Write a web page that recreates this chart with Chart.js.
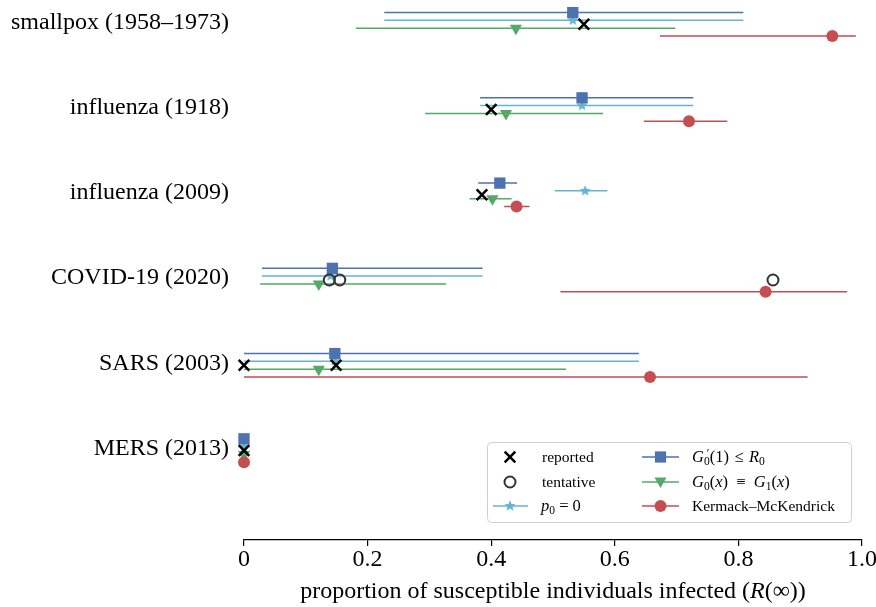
<!DOCTYPE html>
<html>
<head>
<meta charset="utf-8">
<script src="https://cdn.jsdelivr.net/npm/chart.js@4.4.1/dist/chart.umd.min.js"></script>
<style>
  html, body { margin: 0; padding: 0; background: #fff; }
  #wrap { width: 876px; height: 607px; }
</style>
</head>
<body>
<div id="wrap"><canvas id="chart" width="876" height="607"></canvas></div>
<script>
// 数据 — 每个疫情一行, 从上到下
const categories = ['smallpox (1958–1973)', 'influenza (1918)', 'influenza (2009)', 'COVID-19 (2020)', 'SARS (2003)', 'MERS (2013)'];

// G0'(1) <= R0 (蓝色方块)
const boundMid = [0.532, 0.547, 0.414, 0.143, 0.147, 0];
const boundLo  = [0.227, 0.382, 0.379, 0.029, 0.000, 0];
const boundHi  = [0.808, 0.727, 0.442, 0.386, 0.639, 0];
// p0 = 0 (青色星)
const p0Mid = [0.532, 0.547, 0.552, 0.140, 0.147, 0];
const p0Lo  = [0.227, 0.382, 0.503, 0.029, 0.000, 0];
const p0Hi  = [0.808, 0.727, 0.588, 0.386, 0.639, 0];
// G0(x) = G1(x) (绿色三角)
const geoMid = [0.440, 0.424, 0.402, 0.121, 0.121, 0];
const geoLo  = [0.181, 0.293, 0.365, 0.026, 0.000, 0];
const geoHi  = [0.698, 0.581, 0.433, 0.327, 0.521, 0];
// Kermack–McKendrick (红色圆点)
const kmMid = [0.952, 0.720, 0.441, 0.844, 0.657, 0];
const kmLo  = [0.673, 0.647, 0.421, 0.512, 0.000, 0];
const kmHi  = [0.990, 0.782, 0.462, 0.976, 0.912, 0];
// 报告值 / 暂定值
const reportedRow = [0, 1, 2, 4, 4, 5];
const reportedVal = [0.550, 0.400, 0.385, 0.000, 0.149, 0.000];
const tentativeRow = [3, 3, 3];
const tentativeVal = [0.138, 0.155, 0.856];

const xTicks = [0, 0.2, 0.4, 0.6, 0.8, 1.0];

// 样式
const FONT = '"Liberation Serif", "DejaVu Serif", serif';
const C_BLUE = '#4C72B0', C_CYAN = '#64B5CD', C_GREEN = '#55A868', C_RED = '#C44E52';
// 每组内四条线的上下偏移 (蓝, 青, 绿, 红)
const OFF = [-0.137, -0.046, 0.046, 0.137];

function intervals(lo, hi, off) {
  const out = [];
  lo.forEach((l, i) => {
    out.push({ x: l, y: i + off }, { x: hi[i], y: i + off }, { x: null, y: null });
  });
  return out;
}
function points(mid, off) {
  return mid.map((v, i) => ({ x: v, y: i + off }));
}

function makeStar(r, color) {
  const s = Math.ceil(r * 2 + 2);
  const c = document.createElement('canvas');
  c.width = c.height = s;
  const g = c.getContext('2d');
  g.fillStyle = color;
  g.beginPath();
  for (let k = 0; k < 10; k++) {
    const rr = k % 2 ? r * 0.45 : r;
    const a = -Math.PI / 2 + k * Math.PI / 5;
    g.lineTo(s / 2 + rr * Math.cos(a), s / 2 + rr * Math.sin(a));
  }
  g.closePath();
  g.fill();
  return c;
}
const starImg = makeStar(5.8, C_CYAN);

function lineDs(lo, hi, off, color, order) {
  return {
    type: 'line', data: intervals(lo, hi, off), borderColor: color, borderWidth: 1.5,
    pointRadius: 0, showLine: true, spanGaps: false, fill: false, clip: false, order
  };
}
function markDs(data, style, order) {
  return Object.assign({ type: 'scatter', data, clip: false, order, pointBorderWidth: 0 }, style);
}

// 画图例标记
function drawMarker(ctx, kind, x, y) {
  ctx.save();
  ctx.beginPath();
  if (kind === 'x') {
    ctx.strokeStyle = '#000'; ctx.lineWidth = 2.5;
    ctx.moveTo(x - 5.3, y - 5.3); ctx.lineTo(x + 5.3, y + 5.3);
    ctx.moveTo(x - 5.3, y + 5.3); ctx.lineTo(x + 5.3, y - 5.3);
    ctx.stroke();
  } else if (kind === 'o') {
    ctx.strokeStyle = '#333'; ctx.lineWidth = 2;
    ctx.arc(x, y, 5.5, 0, Math.PI * 2); ctx.stroke();
  } else if (kind === 'star') {
    ctx.drawImage(starImg, x - starImg.width / 2, y - starImg.height / 2);
  } else if (kind === 'sq') {
    ctx.fillStyle = C_BLUE; ctx.fillRect(x - 5.6, y - 5.6, 11.2, 11.2);
  } else if (kind === 'tri') {
    ctx.fillStyle = C_GREEN;
    ctx.moveTo(x - 6, y - 4.5); ctx.lineTo(x + 6, y - 4.5); ctx.lineTo(x, y + 6); ctx.closePath(); ctx.fill();
  } else if (kind === 'dot') {
    ctx.fillStyle = C_RED; ctx.arc(x, y, 6, 0, Math.PI * 2); ctx.fill();
  }
  ctx.restore();
}

// 数学文本: [文字, 样式] 样式 i=斜体 s=下标 p=上标 k=不前进
function runFont(st, size) {
  const fs = (st.includes('s') || st.includes('p')) ? size * 0.7 : size;
  return (st.includes('i') ? 'italic ' : '') + fs + 'px ' + FONT;
}
function runsWidth(ctx, runs, size) {
  let w = 0;
  runs.forEach(([t, st]) => { ctx.font = runFont(st, size); if (!st.includes('k')) w += ctx.measureText(t).width; });
  return w;
}
function drawRuns(ctx, x, y, runs, size) {
  runs.forEach(([t, st]) => {
    let dy = 0;
    if (st.includes('s')) dy = size * 0.2;
    if (st.includes('p')) dy = -size * 0.3;
    ctx.font = runFont(st, size);
    ctx.fillText(t, x, y + dy);
    if (!st.includes('k')) x += ctx.measureText(t).width;
  });
}

const legendPlugin = {
  id: 'customLegend',
  afterDraw(chart) {
    const ctx = chart.ctx;
    ctx.save();
    // 图例框
    ctx.beginPath();
    ctx.roundRect(487.5, 442.5, 364, 80, 4);
    ctx.fillStyle = 'rgba(255,255,255,0.85)';
    ctx.fill();
    ctx.strokeStyle = '#d0d0d0'; ctx.lineWidth = 1;
    ctx.stroke();

    const rows = [457, 482, 506];
    ctx.fillStyle = '#000';
    ctx.textBaseline = 'alphabetic';
    ctx.textAlign = 'left';
    // 第一列
    drawMarker(ctx, 'x', 510, rows[0]);
    drawMarker(ctx, 'o', 510, rows[1]);
    ctx.strokeStyle = C_CYAN; ctx.lineWidth = 1.5;
    ctx.beginPath(); ctx.moveTo(493, rows[2]); ctx.lineTo(528, rows[2]); ctx.stroke();
    drawMarker(ctx, 'star', 510, rows[2]);
    ctx.fillStyle = '#000';
    ctx.font = '15.5px ' + FONT;
    ctx.fillText('reported', 542, rows[0] + 5);
    ctx.fillText('tentative', 542, rows[1] + 5);
    drawRuns(ctx, 541, rows[2] + 5, [['p', 'i'], ['0', 's'], [' = 0', '']], 16.5);
    // 第二列
    [[C_BLUE, 'sq'], [C_GREEN, 'tri'], [C_RED, 'dot']].forEach(([c, k], i) => {
      ctx.strokeStyle = c; ctx.lineWidth = 1.5;
      ctx.beginPath(); ctx.moveTo(642, rows[i]); ctx.lineTo(679, rows[i]); ctx.stroke();
      drawMarker(ctx, k, 660.5, rows[i]);
    });
    ctx.fillStyle = '#000';
    drawRuns(ctx, 692, rows[0] + 5, [['G', 'i'], [' ′', 'pk'], ['0', 's'], ['(1)\u2004≤\u2004', ''], ['R', 'i'], ['0', 's']], 16.5);
    drawRuns(ctx, 692, rows[1] + 5, [['G', 'i'], ['0', 's'], ['(', ''], ['x', 'i'], [')\u2002≡\u2002', ''], ['G', 'i'], ['1', 's'], ['(', ''], ['x', 'i'], [')', '']], 16.5);
    ctx.font = '15.5px ' + FONT;
    ctx.fillText('Kermack–McKendrick', 692, rows[2] + 5);

    // x 轴标题
    const area = chart.chartArea;
    const title = [['proportion of susceptible individuals infected (', ''], ['R', 'i'], ['(∞))', '']];
    const tw = runsWidth(ctx, title, 24);
    drawRuns(ctx, (area.left + area.right) / 2 - tw / 2, 598, title, 24);
    ctx.restore();
  }
};

new Chart(document.getElementById('chart'), {
  type: 'scatter',
  data: {
    datasets: [
      lineDs(boundLo, boundHi, OFF[0], C_BLUE, 10),
      lineDs(p0Lo, p0Hi, OFF[1], C_CYAN, 10),
      lineDs(geoLo, geoHi, OFF[2], C_GREEN, 10),
      lineDs(kmLo, kmHi, OFF[3], C_RED, 10),
      markDs(points(p0Mid, OFF[1]), { pointStyle: starImg }, 6),
      markDs(points(geoMid, OFF[2]), { pointStyle: 'triangle', rotation: 180, pointRadius: 7, pointBackgroundColor: C_GREEN }, 5),
      markDs(points(kmMid, OFF[3]), { pointStyle: 'circle', pointRadius: 6, pointBackgroundColor: C_RED }, 4),
      markDs(points(boundMid, OFF[0]), { pointStyle: 'rect', pointRadius: 8, pointBackgroundColor: C_BLUE }, 3),
      markDs(reportedVal.map((v, i) => ({ x: v, y: reportedRow[i] })),
        { pointStyle: 'crossRot', pointRadius: 7.5, pointBorderColor: '#000', pointBorderWidth: 2.5 }, 2),
      markDs(tentativeVal.map((v, i) => ({ x: v, y: tentativeRow[i] })),
        { pointStyle: 'circle', pointRadius: 5.5, pointBackgroundColor: 'rgba(0,0,0,0)', pointBorderColor: '#333', pointBorderWidth: 2 }, 1)
    ]
  },
  options: {
    responsive: false,
    animation: false,
    events: [],
    layout: { autoPadding: false, padding: { left: 0, right: 14, top: 0, bottom: 0 } },
    plugins: { legend: { display: false }, tooltip: { enabled: false } },
    scales: {
      x: {
        type: 'linear', min: 0, max: 1,
        afterBuildTicks: ax => { ax.ticks = xTicks.map(v => ({ value: v })); },
        afterFit: ax => { ax.height = 67; ax.paddingLeft = 0; ax.paddingRight = 0; },
        grid: { drawOnChartArea: false, drawTicks: true, tickLength: 6, color: '#000', lineWidth: 1.2 },
        border: { display: true, color: '#000', width: 1.2 },
        ticks: {
          color: '#000', font: { family: FONT, size: 24 }, padding: -1, maxRotation: 0,
          callback: v => v === 0 ? '0' : v.toFixed(1)
        }
      },
      y: {
        type: 'linear', reverse: true, min: -0.285, max: 6.05,
        afterBuildTicks: ax => { ax.ticks = categories.map((c, i) => ({ value: i })); },
        afterFit: ax => { ax.width = 244; ax.paddingTop = 0; ax.paddingBottom = 0; },
        grid: { display: false, drawTicks: false },
        border: { display: false },
        ticks: {
          color: '#000', font: { family: FONT, size: 24 }, padding: 15, autoSkip: false,
          labelOffset: -2,
          callback: v => categories[v]
        }
      }
    }
  },
  plugins: [legendPlugin]
});
</script>
</body>
</html>
